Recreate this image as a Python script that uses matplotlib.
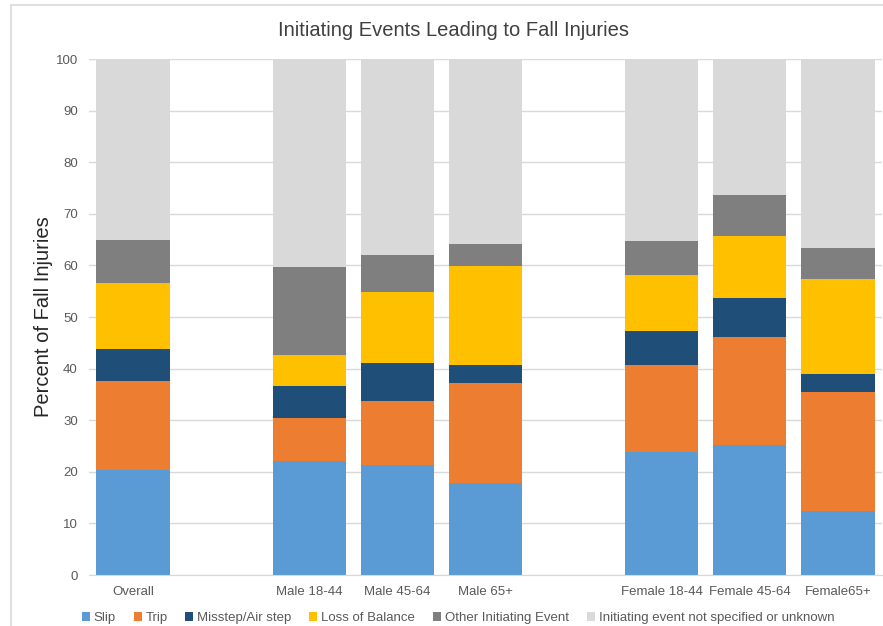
import matplotlib.pyplot as plt
import numpy as np
from matplotlib.patches import Rectangle

plt.rcParams["font.family"] = ["Liberation Sans", "DejaVu Sans"]

categories = ["Overall", "", "Male 18-44", "Male 45-64", "Male 65+", "",
              "Female 18-44", "Female 45-64", "Female65+"]
series_names = ["Slip", "Trip", "Misstep/Air step", "Loss of Balance",
                "Other Initiating Event", "Initiating event not specified or unknown"]

slip = [20.3, 0, 22.1, 21.3, 17.8, 0, 23.8, 25.2, 12.4]
trip = [17.3, 0, 8.3, 12.4, 19.4, 0, 16.9, 20.9, 23.1]
misstep = [6.2, 0, 6.2, 7.4, 3.5, 0, 6.6, 7.6, 3.5]
loss_balance = [12.8, 0, 6.0, 13.7, 19.2, 0, 10.8, 12.0, 18.4]
other = [8.3, 0, 17.1, 7.2, 4.2, 0, 6.6, 7.9, 6.0]
unknown = [35.1, 0, 40.3, 38.0, 35.9, 0, 35.3, 26.4, 36.6]

colors = ["#5B9BD5", "#ED7D31", "#1F4E79", "#FFC000", "#7F7F7F", "#D9D9D9"]

fig = plt.figure(figsize=(8.83, 6.26), dpi=100)
ax = fig.add_axes([89 / 883, 1 - 575 / 626, 793 / 883, 516 / 626])

x = np.arange(len(categories))
bottom = np.zeros(len(categories))
for name, vals, c in zip(series_names,
                         [slip, trip, misstep, loss_balance, other, unknown], colors):
    vals = np.array(vals)
    ax.bar(x, vals, width=0.83, bottom=bottom, color=c, label=name, zorder=3)
    bottom += vals

ax.set_xlim(-0.5, len(categories) - 0.5)
ax.set_ylim(0, 100)
ax.set_yticks(range(0, 101, 10))
ax.set_xticks(x)
ax.set_xticklabels(categories)
ax.tick_params(axis="both", length=0, labelsize=9.5, colors="#595959")
ax.tick_params(axis="y", pad=8)
ax.tick_params(axis="x", pad=8)
ax.grid(axis="y", color="#D9D9D9", linewidth=1, zorder=0)
for s in ["left", "right", "top"]:
    ax.spines[s].set_visible(False)
ax.spines["bottom"].set_color("#D9D9D9")
ax.spines["bottom"].set_zorder(4)

ax.set_ylabel("Percent of Fall Injuries", fontsize=14.5, color="#262626")
ax.yaxis.set_label_coords(-0.045, 0.5)
fig.text(454 / 883, 1 - 30 / 626, "Initiating Events Leading to Fall Injuries",
         fontsize=14.5, color="#404040", ha="center", va="center")

handles, labels = ax.get_legend_handles_labels()
fig.legend(handles, labels, loc="center", bbox_to_anchor=(458 / 883, 1 - 618 / 626),
           ncol=6, frameon=False, fontsize=9.5, handlelength=0.6, handleheight=0.6,
           handletextpad=0.3, columnspacing=1.35, labelcolor="#595959")

fig.patches.append(Rectangle((11 / 883, -0.1), 1.2, 1 - 5 / 626 + 0.1,
                             transform=fig.transFigure, fill=False,
                             edgecolor="#D9D9D9", linewidth=1.2))

fig.savefig("out.png", dpi=100)
